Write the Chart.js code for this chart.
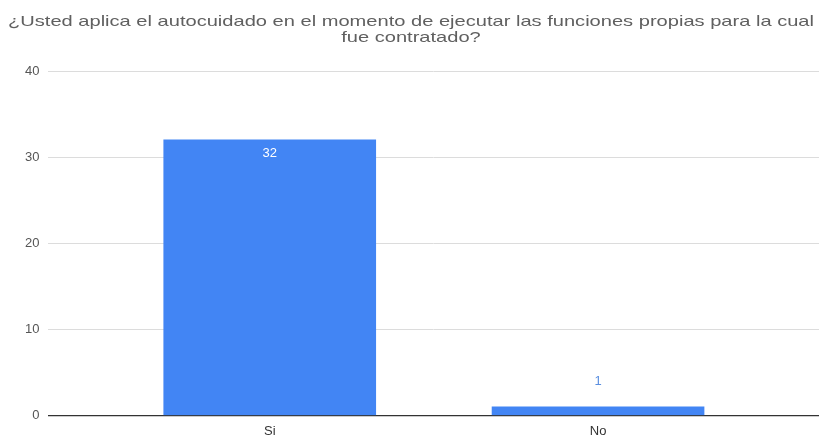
<!DOCTYPE html>
<html>
<head>
<meta charset="utf-8">
<script src="https://cdn.jsdelivr.net/npm/chart.js@4/dist/chart.umd.min.js"></script>
<style>
  html, body { margin: 0; padding: 0; background: #ffffff; }
  #wrap { width: 822px; height: 439px; position: relative; }
</style>
</head>
<body>
<div id="wrap"><canvas id="c"></canvas></div>
<script>
const titleLines = [
  "¿Usted aplica el autocuidado en el momento de ejecutar las funciones propias para la cual",
  "fue contratado?"
];
const categories = ["Si", "No"];
const values = [32, 1];
const yTicks = [0, 10, 20, 30, 40];

const points = values.map((v, i) => ({ x: i, y: v }));
const FONT = '"Liberation Sans", Arial, sans-serif';

const titlePlugin = {
  id: 'stretchedTitle',
  afterDraw(chart) {
    const ctx = chart.ctx;
    ctx.save();
    ctx.font = '15px ' + FONT;
    ctx.fillStyle = '#606060';
    ctx.textAlign = 'center';
    ctx.textBaseline = 'middle';
    const w0 = ctx.measureText(titleLines[0]).width;
    const sx = 806 / w0;
    const cx = chart.width / 2;
    ctx.translate(cx, 0);
    ctx.scale(sx, 1);
    ctx.fillText(titleLines[0], 0, 22);
    ctx.fillText(titleLines[1], 0, 38);
    ctx.restore();
  }
};

const labelPlugin = {
  id: 'valueLabels',
  afterDatasetsDraw(chart) {
    const ctx = chart.ctx;
    const meta = chart.getDatasetMeta(0);
    ctx.save();
    ctx.font = '13px ' + FONT;
    ctx.textAlign = 'center';
    ctx.textBaseline = 'middle';
    meta.data.forEach((bar, i) => {
      const v = values[i];
      const h = bar.base - bar.y;
      if (h > 30) {
        ctx.fillStyle = '#ffffff';
        ctx.fillText(String(v), bar.x, bar.y + 14);
      } else {
        ctx.fillStyle = '#5b8fe0';
        ctx.fillText(String(v), bar.x, bar.y - 25);
      }
    });
    ctx.restore();
  }
};

new Chart(document.getElementById('c'), {
  type: 'bar',
  data: {
    datasets: [{
      data: points,
      backgroundColor: '#4285f4',
      borderWidth: 0,
      barThickness: 212
    }]
  },
  options: {
    responsive: true,
    maintainAspectRatio: false,
    animation: false,
    layout: { padding: { left: 16, right: 3, top: 71, bottom: -8 } },
    plugins: {
      legend: { display: false },
      tooltip: { enabled: false },
      title: { display: false }
    },
    scales: {
      x: {
        type: 'linear',
        offset: false,
        bounds: 'data',
        min: -0.674,
        max: 1.673,
        grid: { display: false, drawTicks: false, offset: false },
        border: { display: false },
        afterBuildTicks(axis) {
          axis.ticks = categories.map((c, i) => ({ value: i }));
        },
        ticks: {
          autoSkip: false,
          maxRotation: 0,
          color: '#333333',
          padding: 8,
          font: { family: FONT, size: 13 },
          callback: (val) => categories[val] ?? ''
        }
      },
      y: {
        min: 0,
        max: 40,
        afterBuildTicks(axis) {
          axis.ticks = yTicks.map(v => ({ value: v }));
        },
        grid: {
          drawTicks: false,
          color: (ctx) => ctx.tick && ctx.tick.value === 0 ? '#333333' : '#dcdcdc',
          lineWidth: (ctx) => ctx.tick && ctx.tick.value === 0 ? 1.2 : 1
        },
        border: { display: false },
        ticks: {
          color: '#555555',
          padding: 9,
          font: { family: FONT, size: 13 }
        }
      }
    }
  },
  plugins: [labelPlugin, titlePlugin]
});
</script>
</body>
</html>
